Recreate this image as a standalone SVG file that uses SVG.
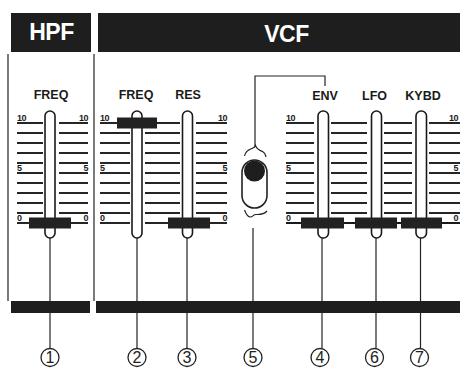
<svg xmlns="http://www.w3.org/2000/svg" width="460" height="370" viewBox="0 0 460 370">
<style>
.bar{fill:#1e1e1e}
.hd{font-family:"Liberation Sans",Arial,sans-serif;font-weight:bold;font-size:23px;fill:#fff;text-anchor:middle;letter-spacing:-0.5px}
.lb{font-family:"Liberation Sans",Arial,sans-serif;font-weight:bold;font-size:12.5px;fill:#1a1a1a;text-anchor:middle}
.sc{font-family:"Liberation Sans",Arial,sans-serif;font-weight:bold;font-size:9px;fill:#1a1a1a;letter-spacing:-0.5px}
.scr{font-family:"Liberation Sans",Arial,sans-serif;font-weight:bold;font-size:9px;fill:#1a1a1a;letter-spacing:-0.5px;text-anchor:end}
.slot{fill:#fff;stroke:#1a1a1a;stroke-width:1.6}
.knob{fill:#222}
.ln{stroke:#222;stroke-width:1.2;fill:none}
.zl{stroke:#1a1a1a;stroke-width:1.9}
.num circle{fill:#fff;stroke:#222;stroke-width:1.3}
.num text{font-family:"Liberation Sans",Arial,sans-serif;font-size:16px;fill:#222;text-anchor:middle}
</style>
<defs>
<pattern id="tp" width="10" height="10" patternUnits="userSpaceOnUse" x="0" y="118">
<rect x="0" y="4.05" width="10" height="1.9" fill="#1a1a1a"/>
</pattern>
</defs>
<rect width="460" height="370" fill="#fff"/>

<g id="frame">
<rect class="bar" x="11" y="13" width="80" height="39"/>
<rect class="bar" x="98" y="13" width="362" height="39"/>
<text class="hd" x="51.5" y="40">HPF</text>
<text class="hd" x="286.5" y="42">VCF</text>
<line class="ln" x1="8" y1="54" x2="8" y2="301"/>
<line class="ln" x1="94" y1="54" x2="94" y2="301"/>
</g>

<g id="connectors">
<line class="ln" x1="50" y1="238" x2="50" y2="348.5"/>
<line class="ln" x1="137" y1="238" x2="137" y2="348.5"/>
<line class="ln" x1="187" y1="238" x2="187" y2="348.5"/>
<line class="ln" x1="322" y1="238" x2="322" y2="348.5"/>
<line class="ln" x1="376" y1="238" x2="376" y2="348.5"/>
<line class="ln" x1="420.5" y1="238" x2="420.5" y2="348.5"/>
<line class="ln" x1="253" y1="228" x2="253" y2="348.5"/>
<path class="ln" d="M255 146V76H325V86"/>
</g>

<g id="bottombar">
<rect class="bar" x="11" y="301" width="79" height="12"/>
<rect class="bar" x="96" y="301" width="364" height="12"/>
</g>

<g id="scale-hpf">
<rect x="17" y="121" width="26" height="104" fill="url(#tp)"/>
<rect x="59" y="121" width="29" height="104" fill="url(#tp)"/>
<text class="sc" x="17" y="121">10</text><text class="scr" x="88" y="121">10</text>
<text class="sc" x="17" y="171">5</text><text class="scr" x="88" y="171">5</text>
<text class="sc" x="17" y="221">0</text><text class="scr" x="88" y="221">0</text>
<line class="zl" x1="43" y1="223" x2="59" y2="223"/>
</g>

<g id="scale-vcf1">
<rect x="100" y="121" width="30" height="104" fill="url(#tp)"/>
<rect x="145" y="121" width="35" height="104" fill="url(#tp)"/>
<rect x="196" y="121" width="31" height="104" fill="url(#tp)"/>
<text class="sc" x="100" y="121">10</text><text class="scr" x="227" y="121">10</text>
<text class="sc" x="100" y="171">5</text><text class="scr" x="227" y="171">5</text>
<text class="sc" x="100" y="221">0</text><text class="scr" x="227" y="221">0</text>
<line class="zl" x1="130" y1="123" x2="145" y2="123"/>
<line class="zl" x1="180" y1="223" x2="196" y2="223"/>
</g>

<g id="scale-vcf2">
<rect x="286" y="121" width="28" height="104" fill="url(#tp)"/>
<rect x="331" y="121" width="36" height="104" fill="url(#tp)"/>
<rect x="384" y="121" width="28" height="104" fill="url(#tp)"/>
<rect x="429" y="121" width="31" height="104" fill="url(#tp)"/>
<text class="sc" x="286" y="121">10</text><text class="scr" x="458" y="121">10</text>
<text class="sc" x="286" y="171">5</text><text class="scr" x="458" y="171">5</text>
<text class="sc" x="286" y="221">0</text><text class="scr" x="458" y="221">0</text>
<line class="zl" x1="286" y1="223" x2="460" y2="223"/>
</g>

<g id="hpf-freq">
<text class="lb" x="51" y="99">FREQ</text>
<rect class="slot" x="45" y="111" width="10" height="127" rx="5"/>
<rect class="knob" x="29" y="217.5" width="42" height="11"/>
</g>

<g id="vcf-freq">
<text class="lb" x="136" y="99">FREQ</text>
<rect class="slot" x="132" y="111" width="10" height="127" rx="5"/>
<rect class="knob" x="117" y="117.5" width="40" height="11"/>
</g>

<g id="vcf-res">
<text class="lb" x="188" y="99">RES</text>
<rect class="slot" x="182.5" y="111" width="10" height="127" rx="5"/>
<rect class="knob" x="168" y="217.5" width="42" height="11"/>
</g>

<g id="switch">
<path class="ln" d="M244.5 156C245.5 151 249 149.5 252 148.5C254 147.8 255 147 255.5 145.5C257 149.5 260 150.5 262.5 151.5C264.5 152.5 265.5 154.5 266 157" stroke-width="1.3"/>
<rect x="242" y="160" width="25" height="48" rx="12.5" fill="#fff" stroke="#222" stroke-width="1.6"/>
<circle cx="254.5" cy="171" r="10.5" fill="#1e1e1e"/>
<path class="ln" d="M244.5 210C246 214 247.5 217 250.5 217C252.5 217 253.5 214.5 256 214.5C260 214.5 263.5 215 267 211" stroke-width="1.3"/>
</g>

<g id="vcf-env">
<text class="lb" x="325" y="100">ENV</text>
<rect class="slot" x="318" y="111" width="10.5" height="127" rx="5"/>
<rect class="knob" x="301" y="217.5" width="43" height="11"/>
</g>

<g id="vcf-lfo">
<text class="lb" x="374.5" y="100">LFO</text>
<rect class="slot" x="371.5" y="111" width="10" height="127" rx="5"/>
<rect class="knob" x="355" y="217.5" width="42" height="11"/>
</g>

<g id="vcf-kybd">
<text class="lb" x="423" y="100">KYBD</text>
<rect class="slot" x="416" y="111" width="10.5" height="127" rx="5"/>
<rect class="knob" x="401" y="217.5" width="41" height="11"/>
</g>

<g id="numbers" class="num">
<g id="n1"><circle cx="50" cy="357.5" r="9"/><text x="50" y="363.3">1</text></g>
<g id="n2"><circle cx="137" cy="357.5" r="9"/><text x="137" y="363.3">2</text></g>
<g id="n3"><circle cx="187" cy="357.5" r="9"/><text x="187" y="363.3">3</text></g>
<g id="n5"><circle cx="253" cy="357.5" r="9"/><text x="253" y="363.3">5</text></g>
<g id="n4"><circle cx="320" cy="357.5" r="9"/><text x="320" y="363.3">4</text></g>
<g id="n6"><circle cx="374.5" cy="357.5" r="9"/><text x="374.5" y="363.3">6</text></g>
<g id="n7"><circle cx="419.5" cy="357.5" r="9"/><text x="419.5" y="363.3">7</text></g>
</g>
</svg>
